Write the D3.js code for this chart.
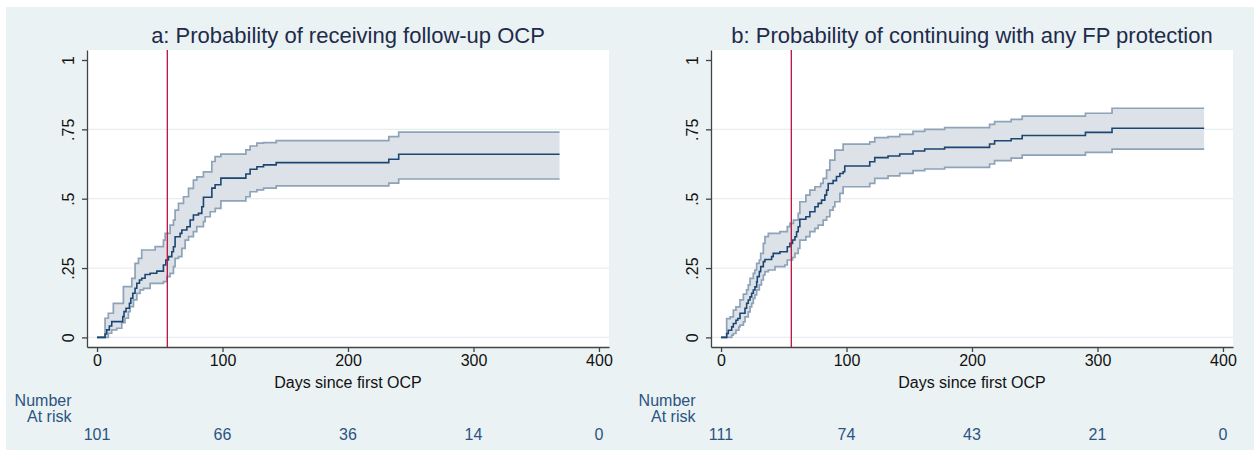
<!DOCTYPE html>
<html>
<head>
<meta charset="utf-8">
<script src="https://cdn.jsdelivr.net/npm/d3@7"></script>
<style>
  html, body { margin: 0; padding: 0; background: #ffffff; }
  svg { display: block; font-family: "Liberation Sans", Arial, Helvetica, sans-serif; }
</style>
</head>
<body>
<svg id="chart" width="1260" height="455"></svg>
<script>
// Kaplan–Meier failure curves: [day, cumulative probability]
const aEstimate = [[0,0],[6.4,.012],[7.7,.027],[9.8,.041],[11.7,.057],[20.5,.075],[21.5,.093],[23.1,.105],[25.8,.123],[26.9,.141],[28.5,.159],[30.3,.177],[31.7,.195],[33.8,.207],[35.6,.213],[38.3,.227],[42.3,.231],[47.6,.239],[52.9,.261],[54.8,.279],[56.9,.291],[59.6,.309],[60.9,.327],[62.2,.363],[66.2,.375],[67.6,.387],[71.6,.399],[74.2,.423],[76.8,.441],[80.8,.447],[83.5,.471],[84.8,.505],[91.5,.538],[94.1,.55],[98.7,.574],[118.6,.589],[122,.606],[127.4,.615],[132.7,.622],[142.8,.630],[232.5,.642],[240.4,.660],[368.6,.660]];
const aUpper = [[0,0],[6.4,.069],[9.0,.087],[13.0,.123],[21.0,.183],[27.7,.213],[30.3,.267],[33.0,.285],[35.6,.315],[46.3,.327],[52.9,.351],[54.3,.375],[58.2,.405],[60.9,.423],[62.2,.459],[64.9,.483],[68.9,.507],[72.9,.537],[76.8,.567],[79.5,.579],[84.8,.597],[91.5,.634],[94.1,.652],[98.7,.661],[118.6,.676],[122,.690],[127.4,.700],[132.7,.702],[142.8,.709],[232.5,.724],[240.4,.740],[368.6,.740]];
const aLower = [[0,0],[9.0,.015],[11.7,.027],[15.7,.033],[19.7,.053],[22.3,.069],[25.0,.093],[26.3,.111],[29.0,.135],[31.7,.159],[34.3,.171],[37.0,.177],[42.3,.195],[52.9,.201],[55.6,.219],[58.2,.231],[60.9,.255],[62.2,.285],[64.9,.291],[67.6,.321],[70.2,.351],[72.9,.363],[76.8,.381],[79.5,.399],[84.8,.417],[86.2,.435],[90.2,.453],[94.2,.465],[98.7,.492],[118.6,.507],[122,.525],[127.4,.532],[132.7,.538],[142.8,.546],[232.5,.556],[240.4,.571],[368.6,.571]];

const bEstimate = [[0,0],[4.5,.014],[5.8,.026],[8.5,.038],[9.8,.050],[11.9,.062],[13.3,.068],[15.1,.087],[19.1,.105],[20.4,.123],[21.7,.135],[23.1,.146],[24.4,.159],[25.7,.171],[27.0,.182],[28.4,.200],[28.9,.219],[30.5,.237],[31.6,.255],[33.7,.273],[35.0,.281],[40.3,.291],[41.6,.303],[46.9,.309],[52.8,.327],[54.9,.339],[57.0,.351],[58.9,.363],[60.2,.381],[61.5,.399],[62.8,.426],[67.6,.435],[70.8,.453],[74.8,.471],[77.4,.483],[80.1,.495],[82.7,.513],[84.1,.531],[85.4,.555],[89.3,.565],[92.0,.580],[94.7,.591],[97.3,.597],[98.6,.618],[118.5,.633],[122.5,.648],[133.1,.654],[142.4,.661],[153.0,.672],[162.3,.679],[178.2,.685],[214.0,.697],[218.0,.709],[231.2,.716],[240.0,.728],[290.4,.739],[311.6,.754],[385,.754]];
const bUpper = [[0,0],[4.5,.068],[7.2,.074],[9.8,.098],[11.9,.110],[15.1,.135],[17.8,.156],[20.4,.171],[21.7,.189],[23.1,.213],[25.7,.231],[27.0,.243],[28.4,.267],[30.5,.279],[31.6,.303],[33.7,.339],[35.0,.363],[37.7,.375],[46.9,.381],[52.8,.399],[54.9,.411],[57.7,.423],[61.5,.447],[62.8,.489],[67.6,.513],[70.8,.531],[74.8,.543],[79.4,.555],[81.4,.573],[84.1,.603],[86.7,.639],[90.7,.675],[97.3,.697],[118.5,.705],[122.5,.720],[133.1,.724],[142.4,.732],[153.0,.743],[162.3,.750],[178.2,.756],[214.0,.768],[218.0,.778],[231.2,.786],[240.0,.798],[290.4,.808],[311.6,.826],[385,.826]];
const bLower = [[0,0],[8.5,.008],[9.8,.014],[11.9,.026],[14.2,.038],[15.1,.044],[17.8,.056],[19.1,.074],[21.7,.092],[23.1,.110],[24.4,.123],[25.7,.141],[27.0,.153],[28.4,.171],[30.5,.189],[32.2,.207],[33.7,.225],[35.0,.237],[37.7,.243],[43.0,.255],[50.9,.261],[52.8,.279],[57.0,.288],[58.9,.303],[61.5,.321],[62.8,.351],[67.6,.363],[70.8,.381],[74.8,.393],[77.4,.405],[81.4,.423],[84.1,.435],[86.7,.459],[89.3,.471],[90.7,.489],[94.7,.519],[97.3,.543],[118.5,.555],[122.5,.573],[133.1,.582],[142.4,.591],[153.0,.601],[162.3,.607],[178.2,.613],[214.0,.625],[218.0,.637],[231.2,.646],[240.0,.657],[290.4,.667],[311.6,.679],[385,.679]];

const titles = ["a: Probability of receiving follow-up OCP", "b: Probability of continuing with any FP protection"];
const xTicks = [0, 100, 200, 300, 400];
const yTicks = [0, .25, .5, .75, 1];
const yTickLabels = ["0", ".25", ".5", ".75", "1"];
const aAtRisk = [101, 66, 36, 14, 0];
const bAtRisk = [111, 74, 43, 21, 0];
const referenceDay = 56;
const xLabel = "Days since first OCP";

const svg = d3.select("#chart");

// outer graph region
svg.append("rect").attr("x", 6).attr("y", 7).attr("width", 1248).attr("height", 443).attr("fill", "#eaf2f3");

const colors = { est: "#1c4672", ci: "#8ea2b8", band: "#dde2e9", grid: "#e6eef0", ref: "#b8123f", text: "#1e2b4a", risk: "#2a5482" };

// step-function value at day t
function stepAt(pts, t) {
  let v = pts[0][1];
  for (const p of pts) { if (p[0] <= t) v = p[1]; else break; }
  return v;
}

function panel(offsetX, title, est, hi, lo, atRisk) {
  const left = 87 + offsetX, right = 609 + offsetX, top = 50, bottom = 347;
  const x = d3.scaleLinear().domain([-8, 408]).range([left, right]);
  const y = d3.scaleLinear().domain([-0.0346, 1.036]).range([bottom, top]);
  const g = svg.append("g");

  g.append("rect").attr("x", left).attr("y", top).attr("width", right - left).attr("height", bottom - top).attr("fill", "#ffffff");

  // horizontal grid
  g.selectAll(".grid").data(yTicks.filter(d => d < 1)).enter().append("line")
    .attr("x1", left).attr("x2", right).attr("y1", d => y(d)).attr("y2", d => y(d))
    .attr("stroke", colors.grid).attr("stroke-width", 1.3);

  // confidence band
  const times = Array.from(new Set(hi.map(d => d[0]).concat(lo.map(d => d[0])))).sort((a, b) => a - b);
  const bandData = times.map(t => ({ t, hi: stepAt(hi, t), lo: stepAt(lo, t) }));
  g.append("path").datum(bandData)
    .attr("d", d3.area().curve(d3.curveStepAfter).x(d => x(d.t)).y0(d => y(d.lo)).y1(d => y(d.hi)))
    .attr("fill", colors.band);

  const line = d3.line().curve(d3.curveStepAfter).x(d => x(d[0])).y(d => y(d[1]));
  [hi, lo].forEach(s => g.append("path").datum(s).attr("d", line)
    .attr("fill", "none").attr("stroke", colors.ci).attr("stroke-width", 1.7));
  g.append("path").datum(est).attr("d", line)
    .attr("fill", "none").attr("stroke", colors.est).attr("stroke-width", 1.6);

  // reference line
  g.append("line").attr("x1", x(referenceDay)).attr("x2", x(referenceDay)).attr("y1", top).attr("y2", bottom)
    .attr("stroke", colors.ref).attr("stroke-width", 1.3);

  // axes
  const yAxis = d3.axisLeft(y).tickValues(yTicks).tickFormat((d, i) => yTickLabels[i]).tickSizeInner(5).tickSizeOuter(0).tickPadding(4);
  const ya = g.append("g").attr("transform", `translate(${left},0)`).call(yAxis);
  ya.selectAll("text").attr("transform", "rotate(-90)").attr("x", 0).attr("dy", 0).attr("y", -13)
    .attr("text-anchor", "middle").style("font-size", "16px").attr("fill", "#111");
  const xAxis = d3.axisBottom(x).tickValues(xTicks).tickSizeInner(5).tickSizeOuter(0).tickPadding(3);
  const xa = g.append("g").attr("transform", `translate(0,${bottom})`).call(xAxis);
  xa.selectAll("text").style("font-size", "16px").attr("fill", "#111");
  [ya, xa].forEach(a => {
    a.select(".domain").attr("stroke", "#444").attr("stroke-width", 1.3);
    a.selectAll(".tick line").attr("stroke", "#444").attr("stroke-width", 1.3);
  });

  g.append("text").attr("x", (left + right) / 2).attr("y", 388).attr("text-anchor", "middle")
    .style("font-size", "16px").attr("fill", "#111").text(xLabel);

  g.append("text").attr("x", (left + right) / 2).attr("y", 43).attr("text-anchor", "middle")
    .style("font-size", "22px").attr("fill", colors.text).text(title);

  // number at risk table
  g.append("text").attr("x", 71.5 + offsetX).attr("y", 406).attr("text-anchor", "end")
    .style("font-size", "16px").attr("fill", colors.risk).text("Number");
  g.append("text").attr("x", 71.5 + offsetX).attr("y", 422).attr("text-anchor", "end")
    .style("font-size", "16px").attr("fill", colors.risk).text("At risk");
  g.selectAll(".risk").data(atRisk).enter().append("text")
    .attr("x", (d, i) => x(xTicks[i])).attr("y", 440).attr("text-anchor", "middle")
    .style("font-size", "16px").attr("fill", colors.risk).text(d => d);
}

panel(0, titles[0], aEstimate, aUpper, aLower, aAtRisk);
panel(624, titles[1], bEstimate, bUpper, bLower, bAtRisk);
</script>
</body>
</html>
